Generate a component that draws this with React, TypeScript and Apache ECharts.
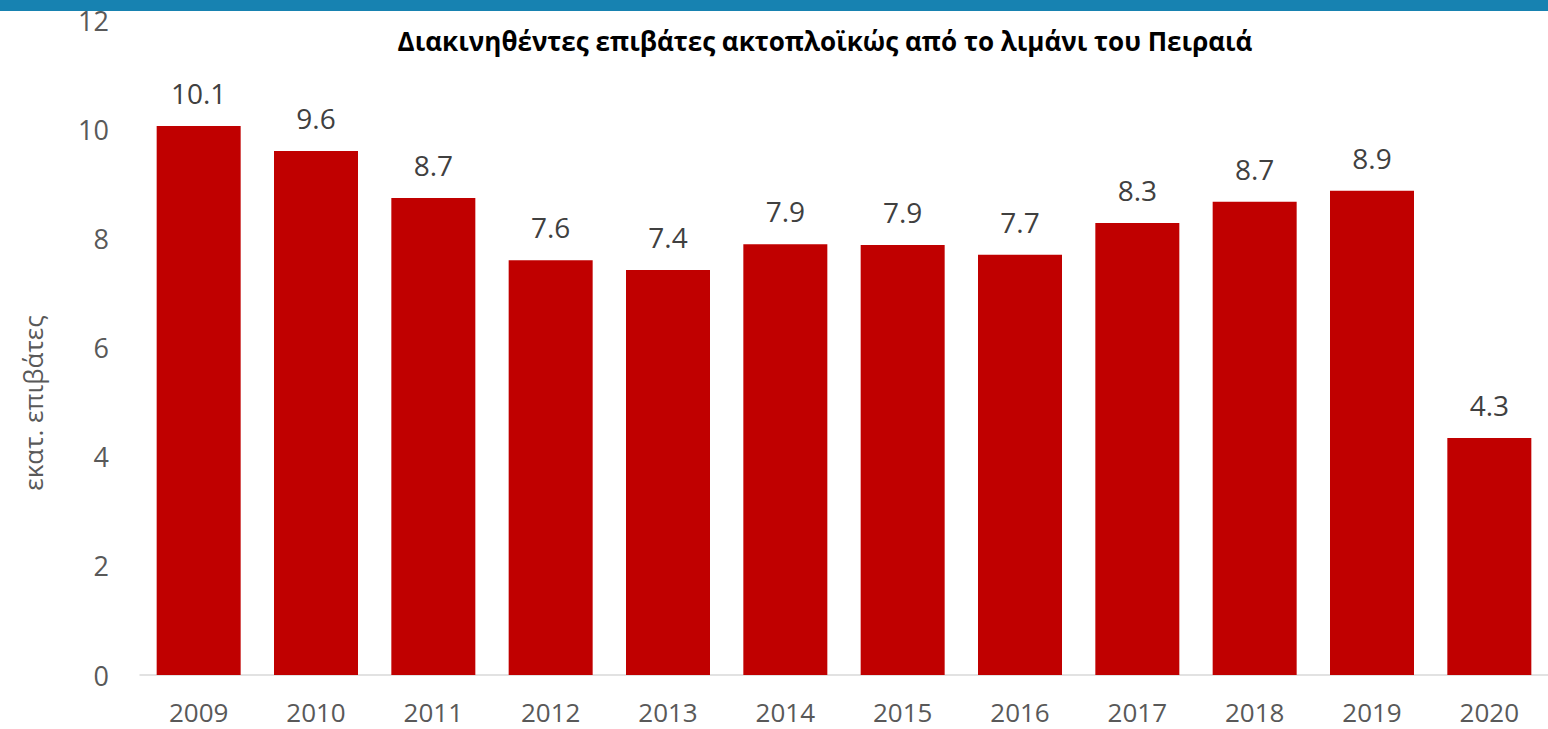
import React, { useEffect, useRef } from "react";
import * as echarts from "echarts";

const years = ["2009", "2010", "2011", "2012", "2013", "2014", "2015", "2016", "2017", "2018", "2019", "2020"];
const passengers = [10.06, 9.6, 8.74, 7.6, 7.42, 7.89, 7.88, 7.7, 8.28, 8.67, 8.87, 4.34];
const yTicks = { min: 0, max: 12, interval: 2 };
const titleText = "Διακινηθέντες επιβάτες ακτοπλοϊκώς από το λιμάνι του Πειραιά";
const yName = "εκατ. επιβάτες";

export default function App() {
  const ref = useRef<HTMLDivElement>(null);
  useEffect(() => {
    if (!ref.current) return;
    const chart = echarts.init(ref.current, undefined, { renderer: "svg" });
    const font = "'Open Sans', 'Noto Sans', sans-serif";
    chart.setOption({
      animation: false,
      backgroundColor: "#ffffff",
      title: {
        text: titleText,
        left: 820,
        top: 23,
        textAlign: "center",
        textStyle: { fontFamily: font, fontWeight: "bold", fontSize: 26, color: "#000000" },
      },
      grid: { left: 140, right: -3, top: 20, bottom: 54, containLabel: false },
      xAxis: {
        type: "category",
        data: years,
        axisLine: { show: true, lineStyle: { color: "#d9d9d9", width: 1.5 } },
        axisTick: { show: false },
        axisLabel: { color: "#595959", fontFamily: font, fontSize: 26, lineHeight: 22, margin: 26 },
      },
      yAxis: {
        type: "value",
        min: yTicks.min,
        max: yTicks.max,
        interval: yTicks.interval,
        axisLine: { show: false },
        axisTick: { show: false },
        splitLine: { show: false },
        axisLabel: { color: "#595959", fontFamily: font, fontSize: 27, margin: 31 },
      },
      graphic: [
        {
          type: "rect",
          shape: { x: 0, y: 0, width: 1548, height: 11 },
          style: { fill: "#1782b1" },
          z: 100,
        },
        {
          type: "text",
          x: 33,
          y: 403,
          rotation: Math.PI / 2,
          style: {
            text: yName,
            fontFamily: font,
            fontSize: 26,
            fill: "#595959",
            textAlign: "center",
            textVerticalAlign: "middle",
          },
        },
      ],
      series: [
        {
          type: "bar",
          data: passengers,
          barWidth: 84,
          itemStyle: { color: "#c00000" },
          label: {
            show: true,
            position: "top",
            distance: 19,
            color: "#404040",
            fontFamily: font,
            fontSize: 28,
            formatter: (p: any) => Number(p.value).toFixed(1),
          },
        },
      ],
    });
    return () => chart.dispose();
  }, []);
  return (
    <div
      ref={ref}
      style={{ position: "fixed", left: 0, top: 0, width: 1548, height: 729 }}
    />
  );
}
